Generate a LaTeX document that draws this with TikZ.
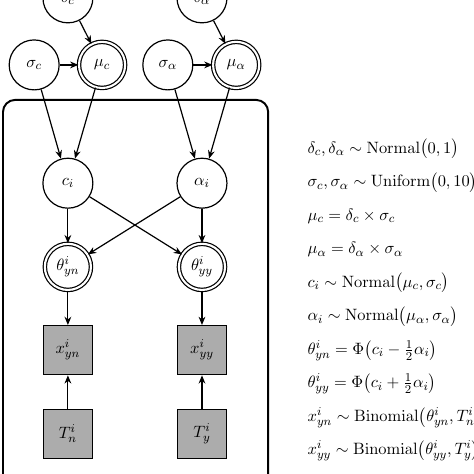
\documentclass[tikz,border=0pt]{standalone}
\usepackage{amsmath}
\usetikzlibrary{arrows.meta}

\begin{document}
\begin{tikzpicture}[>={Stealth[length=5.5pt,width=4.5pt]}, thick, font=\fontsize{10.9}{13}\selectfont,
    latent/.style={circle,draw,minimum size=1.17cm,inner sep=0pt},
    derived/.style={circle,draw,double,double distance=1.4pt,minimum size=1.08cm,inner sep=0pt},
    observed/.style={rectangle,draw,thick,fill=gray!65,minimum size=1.15cm,inner sep=0pt},
    eqline/.style={anchor=west,inner sep=0pt}]
    \useasboundingbox (0,0) rectangle (11.1,11.1);
    \clip (0,0) rectangle (11.1,11.1);

    % group level %
    \node[latent] (dc) at (1.59,11.15) {$\delta_c$};
    \node[latent] (da) at (4.73,11.15) {$\delta_\alpha$};
    \node[latent] (sc) at (0.80,9.58) {$\sigma_c$};
    \node[derived] (mc) at (2.39,9.58) {$\mu_c$};
    \node[latent] (sa) at (3.93,9.58) {$\sigma_\alpha$};
    \node[derived] (ma) at (5.53,9.58) {$\mu_\alpha$};

    % plate %
    \draw[line width=1.3pt,rounded corners=8pt] (0.07,-1) rectangle (6.28,8.76);

    % subject level %
    \node[latent] (ci) at (1.59,6.81) {$c_i$};
    \node[latent] (ai) at (4.73,6.81) {$\alpha_i$};
    \node[derived] (tyn) at (1.59,4.85) {$\theta^i_{yn}$};
    \node[derived] (tyy) at (4.73,4.85) {$\theta^i_{yy}$};
    \node[observed] (xyn) at (1.59,2.90) {$x^i_{yn}$};
    \node[observed] (xyy) at (4.73,2.90) {$x^i_{yy}$};
    \node[observed] (tn) at (1.59,0.94) {$T^i_n$};
    \node[observed] (ty) at (4.73,0.94) {$T^i_y$};

    % arrows %
    \draw[->] (dc) -- (mc);
    \draw[->] (sc) -- (mc);
    \draw[->] (da) -- (ma);
    \draw[->] (sa) -- (ma);
    \draw[->] (sc) -- (ci);
    \draw[->] (mc) -- (ci);
    \draw[->] (sa) -- (ai);
    \draw[->] (ma) -- (ai);
    \draw[->] (ci) -- (tyn);
    \draw[->] (ci) -- (tyy);
    \draw[->] (ai) -- (tyn);
    \draw[->] (ai) -- (tyy);
    \draw[->] (tyn) -- (xyn);
    \draw[->] (tyy) -- (xyy);
    \draw[->] (tn) -- (xyn);
    \draw[->] (ty) -- (xyy);

    % model definition %
    \node[eqline] (eq1) at (7.19,7.61) {$\delta_c, \delta_\alpha \sim \mathrm{Normal}\bigl(0,1\bigr)$};
    \node[eqline] (eq2) at (7.19,6.82) {$\sigma_c, \sigma_\alpha \sim \mathrm{Uniform}\bigl(0,10\bigr)$};
    \node[eqline] (eq3) at (7.19,6.04) {$\mu_c = \delta_c \times \sigma_c$};
    \node[eqline] (eq4) at (7.19,5.25) {$\mu_\alpha = \delta_\alpha \times \sigma_\alpha$};
    \node[eqline] (eq5) at (7.19,4.47) {$c_i \sim \mathrm{Normal}\bigl(\mu_c, \sigma_c\bigr)$};
    \node[eqline] (eq6) at (7.19,3.68) {$\alpha_i \sim \mathrm{Normal}\bigl(\mu_\alpha, \sigma_\alpha\bigr)$};
    \node[eqline] (eq7) at (7.19,2.89) {$\theta^i_{yn} = \Phi\bigl(c_i - \tfrac{1}{2}\alpha_i\bigr)$};
    \node[eqline] (eq8) at (7.19,2.11) {$\theta^i_{yy} = \Phi\bigl(c_i + \tfrac{1}{2}\alpha_i\bigr)$};
    \node[eqline] (eq9) at (7.19,1.32) {$x^i_{yn} \sim \mathrm{Binomial}\bigl(\theta^i_{yn}, T^i_n\bigr)$};
    \node[eqline] (eq10) at (7.19,0.54) {$x^i_{yy} \sim \mathrm{Binomial}\bigl(\theta^i_{yy}, T^i_y\bigr)$};
\end{tikzpicture}
\end{document}
